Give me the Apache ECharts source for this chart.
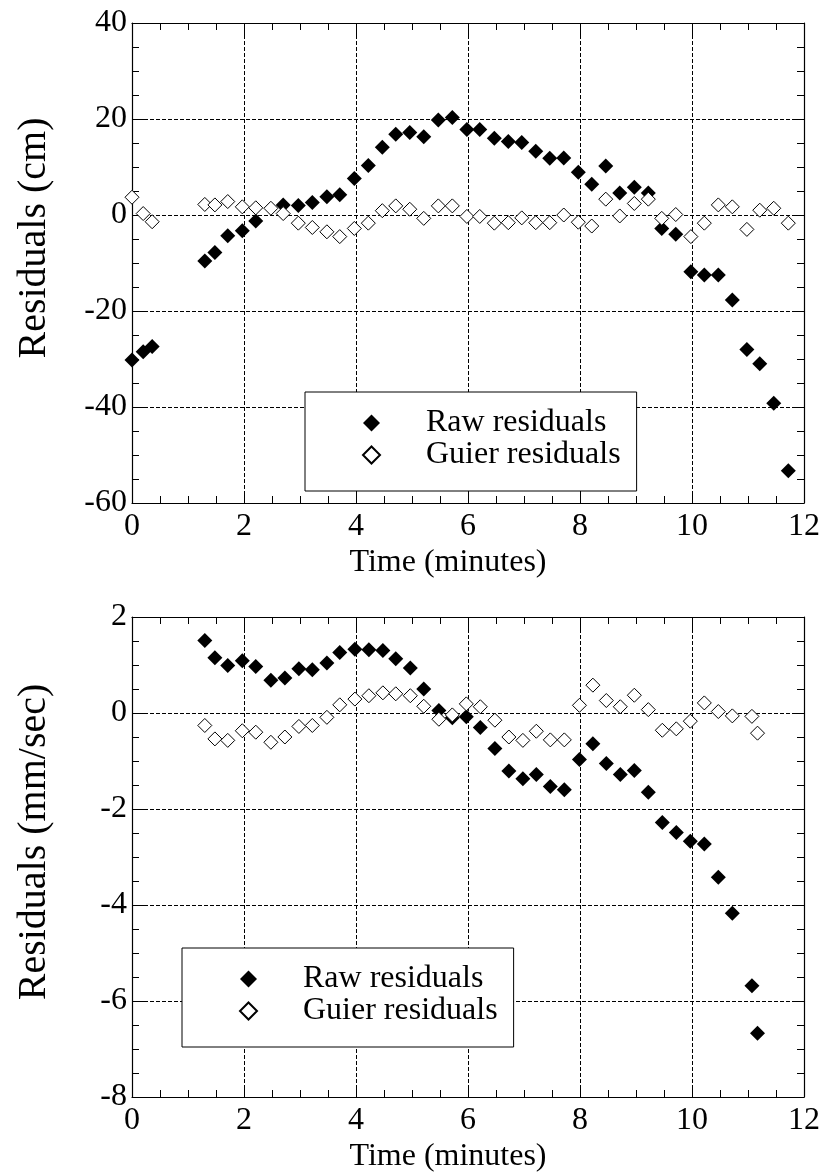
<!DOCTYPE html>
<html>
<head>
<meta charset="utf-8">
<script src="https://cdn.jsdelivr.net/npm/echarts@6/dist/echarts.min.js"></script>
<style>
html,body{margin:0;padding:0;background:#fff;}
#chart{width:825px;height:1176px;}
</style>
</head>
<body>
<div id="chart"></div>
<script>
// ---- Data ----
const xTicks = [0, 2, 4, 6, 8, 10, 12];

// Top panel: residuals in cm
const topTimes = [0.0, 0.2, 0.36, 1.30, 1.48, 1.71, 1.97, 2.21, 2.48, 2.70, 2.97, 3.22, 3.48, 3.71, 3.97, 4.22, 4.47, 4.71, 4.96, 5.21, 5.47, 5.72, 5.98, 6.21, 6.47, 6.72, 6.96, 7.21, 7.46, 7.71, 7.97, 8.21, 8.46, 8.71, 8.97, 9.22, 9.46, 9.71, 9.98, 10.22, 10.47, 10.72, 10.98, 11.21, 11.46, 11.72];
const topRaw = [-30.2, -28.5, -27.4, -9.6, -7.8, -4.3, -3.3, -1.25, null, 2.1, 2.0, 2.6, 3.8, 4.2, 7.6, 10.3, 14.1, 16.8, 17.2, 16.3, 19.8, 20.3, 17.8, 17.8, 16.0, 15.3, 15.1, 13.3, 11.8, 11.9, 8.9, 6.4, 10.2, 4.6, 5.8, 4.6, -2.8, -4.0, -11.8, -12.5, -12.5, -17.7, -28.0, -31.0, -39.2, -53.3];
const topGuier = [3.7, 0.3, -1.4, 2.2, 2.1, 2.8, 1.7, 1.5, 1.4, 0.3, -1.7, -2.6, -3.5, -4.5, -2.8, -1.7, 0.9, 1.9, 1.2, -0.7, 1.9, 1.9, -0.3, -0.3, -1.7, -1.6, -0.6, -1.6, -1.6, 0.0, -1.5, -2.3, 3.3, -0.2, 2.4, 3.3, -0.7, 0.1, -4.5, -1.7, 2.1, 1.7, -3.0, 1.0, 1.4, -1.7];

// Bottom panel: residuals in mm/sec
const botTimes = [1.30, 1.48, 1.71, 1.97, 2.21, 2.48, 2.73, 2.98, 3.22, 3.48, 3.71, 3.98, 4.23, 4.48, 4.71, 4.97, 5.21, 5.48, 5.72, 5.97, 6.22, 6.48, 6.73, 6.98, 7.22, 7.47, 7.72, 7.99, 8.23, 8.47, 8.72, 8.97, 9.22, 9.47, 9.72, 9.97, 10.22, 10.47, 10.72, 11.07, 11.17];
const botRaw = [1.51, 1.15, 0.99, 1.09, 0.97, 0.68, 0.73, 0.92, 0.90, 1.04, 1.26, 1.33, 1.32, 1.30, 1.13, 0.94, 0.50, 0.05, -0.10, -0.08, -0.30, -0.74, -1.21, -1.37, -1.28, -1.53, -1.60, -0.97, -0.64, -1.05, -1.28, -1.20, -1.65, -2.28, -2.49, -2.67, -2.73, -3.42, -4.17, -5.68, -6.67];
const botGuier = [-0.26, -0.54, -0.57, -0.37, -0.40, -0.61, -0.50, -0.28, -0.26, -0.09, 0.17, 0.29, 0.36, 0.42, 0.40, 0.36, 0.14, -0.13, -0.04, 0.19, 0.13, -0.15, -0.50, -0.57, -0.38, -0.56, -0.56, 0.16, 0.58, 0.26, 0.13, 0.37, 0.07, -0.36, -0.33, -0.17, 0.21, 0.03, -0.06, -0.07, -0.42];

const topYTicks = [-60, -40, -20, 0, 20, 40];
const botYTicks = [-8, -6, -4, -2, 0, 2];

const seriesNames = ['Raw residuals', 'Guier residuals'];
const xTitle = 'Time (minutes)';
const topYTitle = 'Residuals (cm)';
const botYTitle = 'Residuals (mm/sec)';

// ---- Build chart ----
const FONT = "'Liberation Serif', 'Times New Roman', serif";
const pairs = (xs, ys) => xs.map((x, i) => [x, ys[i]]).filter(p => p[1] !== null && p[1] !== undefined);

const gridLine = { show: true, lineStyle: { color: '#000', width: 1, type: [4, 2] } };
const axisLine = { show: true, onZero: false, lineStyle: { color: '#000', width: 1.2 } };
const tick = { show: true, inside: true, length: 12, lineStyle: { color: '#000', width: 1 } };
const minor = { show: true, splitNumber: 4, length: 7, lineStyle: { color: '#000', width: 1 } };
const labelStyle = { color: '#000', fontFamily: FONT, fontSize: 32 };

function xAxes(gi) {
  const mn = xTicks[0], mx = xTicks[xTicks.length - 1], iv = xTicks[1] - xTicks[0];
  return [
    { type: 'value', gridIndex: gi, position: 'bottom', min: mn, max: mx, interval: iv,
      axisLine, axisTick: tick, minorTick: minor, splitLine: gridLine,
      axisLabel: Object.assign({ margin: 8 }, labelStyle),
      name: xTitle, nameLocation: 'middle', nameGap: 44,
      nameTextStyle: { color: '#000', fontFamily: FONT, fontSize: 32, padding: [0, 40, 0, 0] } },
    { type: 'value', gridIndex: gi, position: 'top', min: mn, max: mx, interval: iv,
      axisLine, axisTick: tick, minorTick: minor, splitLine: { show: false },
      axisLabel: { show: false } }
  ];
}
function yAxes(gi, ticks, title, shift) {
  const mn = ticks[0], mx = ticks[ticks.length - 1], iv = ticks[1] - ticks[0];
  return [
    { type: 'value', gridIndex: gi, position: 'left', min: mn, max: mx, interval: iv,
      axisLine, axisTick: tick, minorTick: minor, splitLine: gridLine,
      axisLabel: Object.assign({ margin: 5 }, labelStyle),
      name: title, nameLocation: 'middle', nameGap: 78, nameRotate: 90,
      nameTextStyle: { color: '#000', fontFamily: FONT, fontSize: 40, padding: [0, 0, 0, shift] } },
    { type: 'value', gridIndex: gi, position: 'right', min: mn, max: mx, interval: iv,
      axisLine, axisTick: tick, minorTick: minor, splitLine: { show: false },
      axisLabel: { show: false } }
  ];
}

const rawStyle = { color: '#000', opacity: 1 };
const guierStyle = { color: '#fff', borderColor: '#000', borderWidth: 1, opacity: 1 };

function legendAt(left, top) {
  return {
    left, top, orient: 'vertical', data: seriesNames,
    backgroundColor: '#fff', borderColor: '#000', borderWidth: 1,
    padding: [15, 16, 20, 57], itemGap: 0, itemWidth: 17, itemHeight: 17,
    selectedMode: false,
    textStyle: { color: '#000', fontFamily: FONT, fontSize: 32, lineHeight: 30, padding: [0, 0, 0, 41] }
  };
}

const option = {
  animation: false,
  backgroundColor: '#fff',
  grid: [
    { left: 132, top: 23, width: 672, height: 480 },
    { left: 132, top: 617, width: 672, height: 480 }
  ],
  xAxis: [...xAxes(0), ...xAxes(1)],
  yAxis: [...yAxes(0, topYTicks, topYTitle, 50), ...yAxes(1, botYTicks, botYTitle, 30)],
  legend: [legendAt(305, 392), legendAt(182, 948)],
  series: [
    { name: seriesNames[0], type: 'scatter', xAxisIndex: 0, yAxisIndex: 0, symbol: 'diamond', symbolSize: 15, itemStyle: rawStyle, data: pairs(topTimes, topRaw) },
    { name: seriesNames[1], type: 'scatter', xAxisIndex: 0, yAxisIndex: 0, symbol: 'diamond', symbolSize: 14, itemStyle: guierStyle, data: pairs(topTimes, topGuier) },
    { name: seriesNames[0], type: 'scatter', xAxisIndex: 2, yAxisIndex: 2, symbol: 'diamond', symbolSize: 15, itemStyle: rawStyle, data: pairs(botTimes, botRaw) },
    { name: seriesNames[1], type: 'scatter', xAxisIndex: 2, yAxisIndex: 2, symbol: 'diamond', symbolSize: 14, itemStyle: guierStyle, data: pairs(botTimes, botGuier) }
  ]
};

const chart = echarts.init(document.getElementById('chart'), null, { renderer: 'canvas' });
chart.setOption(option);
</script>
</body>
</html>
